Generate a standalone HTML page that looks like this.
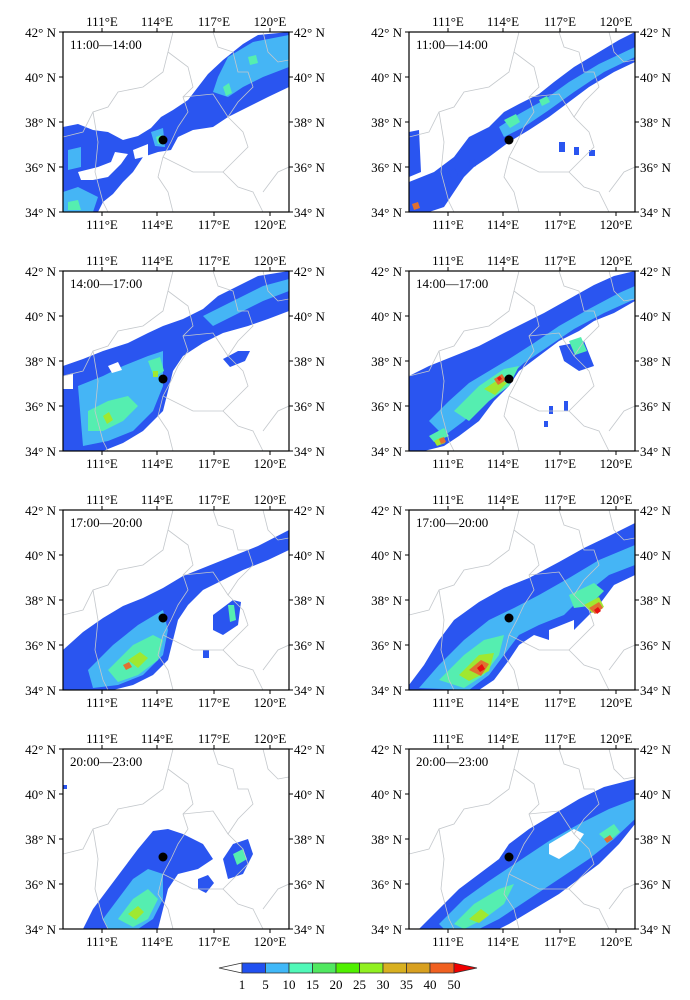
<!DOCTYPE html>
<html><head><meta charset="utf-8"><style>
html,body{margin:0;padding:0;background:#fff}
svg{display:block}
text{font-family:"Liberation Serif",serif;font-size:13px;fill:#000}
.b{fill:#2a55f0}.c{fill:#45b5f5}.g{fill:#55eeb0}.gg{fill:#55e060}.y{fill:#a0e830}.o{fill:#e07030}.r{fill:#e81010}
.bd{fill:none;stroke:#c4c8cc;stroke-width:0.8}
.fr{fill:none;stroke:#000;stroke-width:1.2}
</style></head><body>
<svg width="690" height="1000" viewBox="0 0 690 1000" xmlns="http://www.w3.org/2000/svg">
<defs>
<clipPath id="cp"><rect x="0" y="0" width="226" height="180"/></clipPath>
<g id="bnd">
<path class="bd" d="M0,105 L20,100 30,80 45,75 55,60 80,55 100,40 105,20 110,0"/>
<path class="bd" d="M105,20 L125,35 130,55 120,65 125,80 115,95 108,110 100,125 95,145 105,160 110,180"/>
<path class="bd" d="M150,0 L155,15 170,20 175,40 185,40 190,55 175,70 165,85 180,100 185,115 170,130 160,140 175,155 190,160 200,180"/>
<path class="bd" d="M200,0 L205,20 215,30 226,28"/>
<path class="bd" d="M30,80 L35,110 32,140 40,170 45,180"/>
<path class="bd" d="M120,65 L150,62 165,85"/>
<path class="bd" d="M100,125 L130,140 160,140"/>
<path class="bd" d="M200,160 L215,140 226,135"/>
</g>
<g id="frm">
<rect class="fr" x="0" y="0" width="226" height="180"/>
<path stroke="#000" stroke-width="1" d="M39,0v-4M94,0v-4M151,0v-4M207,0v-4M39,180v4M94,180v4M151,180v4M207,180v4M0,0h-4M0,45h-4M0,90h-4M0,135h-4M0,180h-4M226,0h4M226,45h4M226,90h4M226,135h4M226,180h4"/>
<circle cx="100" cy="108" r="4.5" fill="#000"/>
</g>
</defs>

<!-- ROW 1 LEFT -->
<g transform="translate(63,32)">
<g clip-path="url(#cp)">
<path class="b" d="M0,95 L15,92 30,98 45,100 60,108 75,104 88,96 98,85 110,78 125,68 135,55 145,42 160,28 180,12 195,3 226,0 L226,55 205,65 185,75 165,85 150,95 130,98 115,105 108,118 95,120 80,125 70,140 60,150 50,162 40,170 35,180 0,180Z"/>
<path class="c" d="M165,25 L190,10 226,3 226,35 200,45 180,55 165,65 150,60 155,45Z"/>
<path class="c" d="M0,160 L15,155 35,165 30,180 0,180Z M88,100 L100,96 102,115 92,114Z M5,118 L18,115 18,135 5,138Z"/>
<path class="g" d="M5,170 L15,168 18,178 5,178Z M185,25 l8,-2 2,8 -8,2Z M160,55 l6,-4 3,10 -6,3Z M93,105 l5,-2 2,8 -5,1Z"/>
<path fill="#fff" d="M15,140 L35,135 48,130 52,120 65,122 58,132 45,145 30,148 18,148Z M70,118 L85,112 85,124 72,127Z"/>
</g>
<use href="#bnd" clip-path="url(#cp)"/>
<use href="#frm"/>
<text x="7" y="17">11:00—14:00</text>
</g>
<!-- ROW 1 RIGHT -->
<g transform="translate(409,32)">
<g clip-path="url(#cp)">
<path class="b" d="M60,105 L80,95 95,80 110,72 130,62 145,50 165,35 190,20 210,8 226,0 226,30 205,40 180,55 160,70 140,85 120,98 100,110 80,125 65,135 55,145 45,160 35,175 20,180 0,180 0,150 25,140 45,125Z"/>
<path class="c" d="M90,95 L110,82 135,68 160,50 190,32 226,15 226,25 195,40 165,60 140,78 115,95 95,105Z"/>
<path class="g" d="M95,88 l12,-6 4,8 -10,6Z M130,68 l8,-4 3,6 -8,4Z"/>
<path class="b" d="M0,100 L10,98 12,140 0,145Z M150,110 l6,0 0,10 -6,0Z M165,115 l5,0 0,8 -5,0Z M180,118 l6,0 0,6 -6,0Z M40,140 l6,-4 3,8 -6,3Z M60,128 l5,-2 2,8 -5,2Z"/>
<path class="o" d="M3,172 l6,-2 2,6 -6,2Z"/>
</g>
<use href="#bnd" clip-path="url(#cp)"/>
<use href="#frm"/>
<text x="7" y="17">11:00—14:00</text>
</g>

<!-- ROW 2 LEFT -->
<g transform="translate(63,271)">
<g clip-path="url(#cp)">
<path class="b" d="M0,95 L20,88 40,80 65,72 85,62 100,55 120,48 140,38 155,25 175,15 195,5 226,0 226,40 205,48 185,55 160,62 140,72 120,85 110,100 105,120 100,140 80,160 60,172 40,180 0,180Z"/>
<path class="b" d="M160,88 l15,-8 12,0 -5,10 -15,6Z"/>
<path class="c" d="M15,115 L40,105 60,95 85,85 100,80 100,115 90,140 70,160 45,170 20,175Z"/>
<path class="c" d="M140,45 L170,30 200,15 226,8 226,20 200,30 170,45 150,55Z"/>
<path class="g" d="M25,140 L45,130 65,125 75,135 60,150 40,160 25,160Z M85,90 l12,-4 4,14 -10,6Z"/>
<path class="y" d="M40,145 l6,-4 4,8 -6,4Z M90,100 l5,0 0,6 -5,0Z"/>
<path fill="#fff" d="M0,105 L10,103 10,118 0,118Z M45,95 l10,-4 4,8 -10,3Z"/>
</g>
<use href="#bnd" clip-path="url(#cp)"/>
<use href="#frm"/>
<text x="7" y="17">14:00—17:00</text>
</g>
<!-- ROW 2 RIGHT -->
<g transform="translate(409,271)">
<g clip-path="url(#cp)">
<path class="b" d="M0,105 L20,95 45,85 70,75 95,62 115,52 135,42 160,28 185,14 205,5 226,0 226,30 205,42 185,50 170,60 150,70 130,85 110,100 100,115 85,130 70,150 50,165 35,175 15,180 0,180Z"/>
<path class="b" d="M150,75 L175,70 185,95 170,100 155,90Z"/>
<path class="c" d="M20,150 L40,130 60,112 80,100 100,88 125,72 150,55 180,38 210,22 226,15 226,28 195,42 165,58 140,75 115,92 95,110 75,130 55,150 35,165Z"/>
<path class="g" d="M45,140 L70,115 95,98 110,95 100,115 80,130 60,150Z M160,70 l12,-4 6,14 -12,4Z M20,165 l15,-8 5,8 -15,6Z"/>
<path class="y" d="M75,118 l15,-10 8,4 -12,12Z M25,170 l8,-4 3,6 -8,3Z"/>
<path class="o" d="M85,108 l8,-5 4,6 -8,5Z M30,168 l5,-2 2,5 -5,2Z"/>
<path class="r" d="M88,107 l3,-2 2,3 -3,2Z"/>
<path class="b" d="M140,135 l4,0 0,8 -4,0Z M155,130 l4,0 0,10 -4,0Z M135,150 l4,0 0,6 -4,0Z"/>
</g>
<use href="#bnd" clip-path="url(#cp)"/>
<use href="#frm"/>
<text x="7" y="17">14:00—17:00</text>
</g>

<!-- ROW 3 LEFT -->
<g transform="translate(63,510)">
<g clip-path="url(#cp)">
<path class="b" d="M0,140 L20,122 40,108 60,96 80,88 100,78 120,66 145,56 170,46 195,36 226,20 226,40 205,50 180,60 160,70 140,80 125,95 115,110 110,130 105,150 90,165 70,175 50,180 0,180Z"/>
<path class="b" d="M150,105 L170,90 178,92 175,115 160,125 150,120Z M140,140 l6,0 0,8 -6,0Z"/>
<path class="c" d="M25,160 L50,135 75,115 100,100 105,120 100,145 80,165 55,175 30,178Z"/>
<path class="g" d="M45,160 L70,135 90,125 100,130 95,150 75,165 55,172Z M165,95 l6,0 2,15 -6,2Z"/>
<path class="y" d="M65,150 l12,-8 8,6 -10,10Z"/>
<path class="o" d="M60,155 l6,-3 3,5 -6,3Z"/>
</g>
<use href="#bnd" clip-path="url(#cp)"/>
<use href="#frm"/>
<text x="7" y="17">17:00—20:00</text>
</g>
<!-- ROW 3 RIGHT -->
<g transform="translate(409,510)">
<g clip-path="url(#cp)">
<path class="b" d="M0,175 L15,155 30,130 45,110 70,92 95,78 120,68 150,52 175,38 200,26 226,13 226,65 205,75 190,95 175,110 160,125 140,130 125,125 110,135 100,150 85,170 70,180 0,180Z"/>
<path class="c" d="M10,178 L30,155 55,130 80,110 105,98 130,85 160,68 190,50 226,35 226,55 200,65 175,85 155,105 130,115 110,125 95,145 80,165 60,180Z"/>
<path class="g" d="M30,170 L55,145 75,130 95,125 90,145 75,165 55,178Z M160,85 l25,-12 10,8 -15,15 -15,2Z"/>
<path class="y" d="M50,165 l20,-20 15,-2 -5,18 -20,10Z M175,95 l15,-8 5,10 -12,6Z"/>
<path class="o" d="M60,160 l12,-10 8,4 -8,12Z M180,98 l10,-6 4,6 -8,6Z"/>
<path class="r" d="M68,158 l5,-4 3,5 -5,3Z M185,100 l4,-3 3,4 -4,3Z"/>
<path fill="#fff" d="M140,120 L165,110 165,130 150,140 140,135Z"/>
</g>
<use href="#bnd" clip-path="url(#cp)"/>
<use href="#frm"/>
<text x="7" y="17">17:00—20:00</text>
</g>

<!-- ROW 4 LEFT -->
<g transform="translate(63,749)">
<g clip-path="url(#cp)">
<path class="b" d="M20,180 L30,160 45,140 60,120 75,100 90,82 105,80 120,85 140,95 150,110 135,120 115,125 105,140 100,160 95,180Z"/>
<path class="b" d="M160,110 L170,95 185,90 190,105 180,125 165,130Z M135,130 l10,-4 6,8 -8,10 -8,-4Z M0,36 l4,0 0,4 -4,0Z"/>
<path class="c" d="M40,170 L55,150 70,130 85,120 100,125 100,150 90,170 75,180 45,180Z"/>
<path class="g" d="M55,170 L70,150 85,140 95,150 85,170 70,178Z M170,105 l10,-5 4,10 -10,6Z"/>
<path class="y" d="M65,165 l10,-8 6,6 -8,8Z"/>
</g>
<use href="#bnd" clip-path="url(#cp)"/>
<use href="#frm"/>
<text x="7" y="17">20:00—23:00</text>
</g>
<!-- ROW 4 RIGHT -->
<g transform="translate(409,749)">
<g clip-path="url(#cp)">
<path class="b" d="M10,180 L30,160 50,140 70,125 90,110 100,95 120,80 145,65 170,50 195,38 226,30 226,75 210,95 190,115 170,130 150,145 125,160 100,175 90,180Z"/>
<path class="c" d="M30,175 L55,150 80,132 110,112 140,92 170,75 200,60 226,50 226,70 205,90 180,110 150,130 120,150 90,170 70,180 35,180Z"/>
<path class="g" d="M45,175 L65,155 90,140 105,135 95,155 75,170 55,180Z M190,85 l15,-10 6,8 -12,10Z"/>
<path class="y" d="M60,170 l12,-10 8,6 -10,8Z"/>
<path class="o" d="M195,90 l6,-4 3,4 -6,4Z"/>
<path fill="#fff" d="M140,95 L165,80 175,85 165,100 150,110 140,105Z"/>
</g>
<use href="#bnd" clip-path="url(#cp)"/>
<use href="#frm"/>
<text x="7" y="17">20:00—23:00</text>
</g>

<!-- tick labels -->
<g text-anchor="middle">
<text x="102" y="26">111°E</text><text x="157" y="26">114°E</text><text x="214" y="26">117°E</text><text x="270" y="26">120°E</text>
<text x="102" y="229">111°E</text><text x="157" y="229">114°E</text><text x="214" y="229">117°E</text><text x="270" y="229">120°E</text>
<text x="448" y="26">111°E</text><text x="503" y="26">114°E</text><text x="560" y="26">117°E</text><text x="616" y="26">120°E</text>
<text x="448" y="229">111°E</text><text x="503" y="229">114°E</text><text x="560" y="229">117°E</text><text x="616" y="229">120°E</text>
<text x="102" y="265">111°E</text><text x="157" y="265">114°E</text><text x="214" y="265">117°E</text><text x="270" y="265">120°E</text>
<text x="102" y="468">111°E</text><text x="157" y="468">114°E</text><text x="214" y="468">117°E</text><text x="270" y="468">120°E</text>
<text x="448" y="265">111°E</text><text x="503" y="265">114°E</text><text x="560" y="265">117°E</text><text x="616" y="265">120°E</text>
<text x="448" y="468">111°E</text><text x="503" y="468">114°E</text><text x="560" y="468">117°E</text><text x="616" y="468">120°E</text>
<text x="102" y="504">111°E</text><text x="157" y="504">114°E</text><text x="214" y="504">117°E</text><text x="270" y="504">120°E</text>
<text x="102" y="707">111°E</text><text x="157" y="707">114°E</text><text x="214" y="707">117°E</text><text x="270" y="707">120°E</text>
<text x="448" y="504">111°E</text><text x="503" y="504">114°E</text><text x="560" y="504">117°E</text><text x="616" y="504">120°E</text>
<text x="448" y="707">111°E</text><text x="503" y="707">114°E</text><text x="560" y="707">117°E</text><text x="616" y="707">120°E</text>
<text x="102" y="743">111°E</text><text x="157" y="743">114°E</text><text x="214" y="743">117°E</text><text x="270" y="743">120°E</text>
<text x="102" y="946">111°E</text><text x="157" y="946">114°E</text><text x="214" y="946">117°E</text><text x="270" y="946">120°E</text>
<text x="448" y="743">111°E</text><text x="503" y="743">114°E</text><text x="560" y="743">117°E</text><text x="616" y="743">120°E</text>
<text x="448" y="946">111°E</text><text x="503" y="946">114°E</text><text x="560" y="946">117°E</text><text x="616" y="946">120°E</text>
</g>
<g text-anchor="end">
<text x="56" y="37">42° N</text><text x="56" y="82">40° N</text><text x="56" y="127">38° N</text><text x="56" y="172">36° N</text><text x="56" y="217">34° N</text>
<text x="402" y="37">42° N</text><text x="402" y="82">40° N</text><text x="402" y="127">38° N</text><text x="402" y="172">36° N</text><text x="402" y="217">34° N</text>
<text x="56" y="276">42° N</text><text x="56" y="321">40° N</text><text x="56" y="366">38° N</text><text x="56" y="411">36° N</text><text x="56" y="456">34° N</text>
<text x="402" y="276">42° N</text><text x="402" y="321">40° N</text><text x="402" y="366">38° N</text><text x="402" y="411">36° N</text><text x="402" y="456">34° N</text>
<text x="56" y="515">42° N</text><text x="56" y="560">40° N</text><text x="56" y="605">38° N</text><text x="56" y="650">36° N</text><text x="56" y="695">34° N</text>
<text x="402" y="515">42° N</text><text x="402" y="560">40° N</text><text x="402" y="605">38° N</text><text x="402" y="650">36° N</text><text x="402" y="695">34° N</text>
<text x="56" y="754">42° N</text><text x="56" y="799">40° N</text><text x="56" y="844">38° N</text><text x="56" y="889">36° N</text><text x="56" y="934">34° N</text>
<text x="402" y="754">42° N</text><text x="402" y="799">40° N</text><text x="402" y="844">38° N</text><text x="402" y="889">36° N</text><text x="402" y="934">34° N</text>
</g>
<g>
<text x="294" y="37">42° N</text><text x="294" y="82">40° N</text><text x="294" y="127">38° N</text><text x="294" y="172">36° N</text><text x="294" y="217">34° N</text>
<text x="640" y="37">42° N</text><text x="640" y="82">40° N</text><text x="640" y="127">38° N</text><text x="640" y="172">36° N</text><text x="640" y="217">34° N</text>
<text x="294" y="276">42° N</text><text x="294" y="321">40° N</text><text x="294" y="366">38° N</text><text x="294" y="411">36° N</text><text x="294" y="456">34° N</text>
<text x="640" y="276">42° N</text><text x="640" y="321">40° N</text><text x="640" y="366">38° N</text><text x="640" y="411">36° N</text><text x="640" y="456">34° N</text>
<text x="294" y="515">42° N</text><text x="294" y="560">40° N</text><text x="294" y="605">38° N</text><text x="294" y="650">36° N</text><text x="294" y="695">34° N</text>
<text x="640" y="515">42° N</text><text x="640" y="560">40° N</text><text x="640" y="605">38° N</text><text x="640" y="650">36° N</text><text x="640" y="695">34° N</text>
<text x="294" y="754">42° N</text><text x="294" y="799">40° N</text><text x="294" y="844">38° N</text><text x="294" y="889">36° N</text><text x="294" y="934">34° N</text>
<text x="640" y="754">42° N</text><text x="640" y="799">40° N</text><text x="640" y="844">38° N</text><text x="640" y="889">36° N</text><text x="640" y="934">34° N</text>
</g>

<!-- colorbar -->
<g stroke="#333" stroke-width="0.8">
<path d="M242,963 L219,968 242,973Z" fill="#fff"/>
<rect x="242" y="963" width="23.5" height="10" fill="#2050f0"/>
<rect x="265.5" y="963" width="23.5" height="10" fill="#40b8f8"/>
<rect x="289" y="963" width="23.5" height="10" fill="#50f8b8"/>
<rect x="312.5" y="963" width="23.5" height="10" fill="#50e860"/>
<rect x="336" y="963" width="23.5" height="10" fill="#50f000"/>
<rect x="359.5" y="963" width="23.5" height="10" fill="#90f020"/>
<rect x="383" y="963" width="23.5" height="10" fill="#d8b020"/>
<rect x="406.5" y="963" width="23.5" height="10" fill="#d8a020"/>
<rect x="430" y="963" width="24" height="10" fill="#f06020"/>
<path d="M454,963 L477,968 454,973Z" fill="#f00000"/>
</g>
<g text-anchor="middle">
<text x="242" y="989">1</text><text x="265.5" y="989">5</text><text x="289" y="989">10</text><text x="312.5" y="989">15</text><text x="336" y="989">20</text><text x="359.5" y="989">25</text><text x="383" y="989">30</text><text x="406.5" y="989">35</text><text x="430" y="989">40</text><text x="454" y="989">50</text>
</g>
</svg>
</body></html>
